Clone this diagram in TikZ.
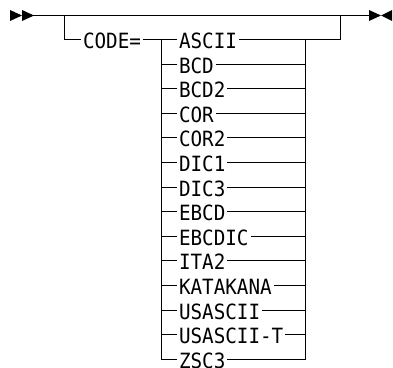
\documentclass[tikz,border=0pt]{standalone}
\usepackage{fontspec}
\newfontfamily\syntaxfont[FakeStretch=0.917]{DejaVu Sans Mono}
\usetikzlibrary{positioning}

\begin{document}
\begin{tikzpicture}[x=1pt,y=1pt,line width=1pt,
        kw/.style={font=\syntaxfont\fontsize{21}{23}\selectfont,anchor=west,
            inner xsep=1.5pt,inner ysep=0pt,text height=18pt,text depth=0pt}]
        \useasboundingbox (0,0) rectangle (393,-367);
        % start and end marks
        \fill (10,-10)--(22,-15.5)--(10,-21)--cycle;
        \fill (22,-10)--(34,-15.5)--(22,-21)--cycle;
        \fill (369,-10)--(381,-15.5)--(369,-21)--cycle;
        \fill (392,-10)--(381,-15.5)--(392,-21)--cycle;
        \coordinate (start) at (33,-15.5);
        \coordinate (stop) at (370,-15.5);
        \draw (start)--(stop);
        \node[kw] (code) at (81,-39.5) {CODE=};
        \draw (64.5,-15.5) |- (code.west);
        \node[kw] (ascii) at (177,-39.5) {ASCII};
        \draw (code.east)--(ascii.west);
        \draw (ascii.east) -| (340.5,-15.5);
        \foreach \k/\n [count=\i] in {bcd/BCD, bcdb/BCD2, cor/COR, corb/COR2, dica/DIC1,
            dicc/DIC3, ebcd/EBCD, ebcdic/EBCDIC, ita/ITA2, kata/KATAKANA,
            usascii/USASCII, usasciit/USASCII-T, zsc/ZSC3}{
            \node[kw] (\k) at (177,{-round(39+24.6*\i)-0.5}) {\n};
            \draw (161.5,{-round(39+24.6*\i)-0.5})--(\k.west);
            \draw (\k.east)--(305.5,{-round(39+24.6*\i)-0.5});
        }
        \draw (161.5,-39.5)--(161.5,-359.5);
        \draw (305.5,-39.5)--(305.5,-359.5);
    \end{tikzpicture}
\end{document}
